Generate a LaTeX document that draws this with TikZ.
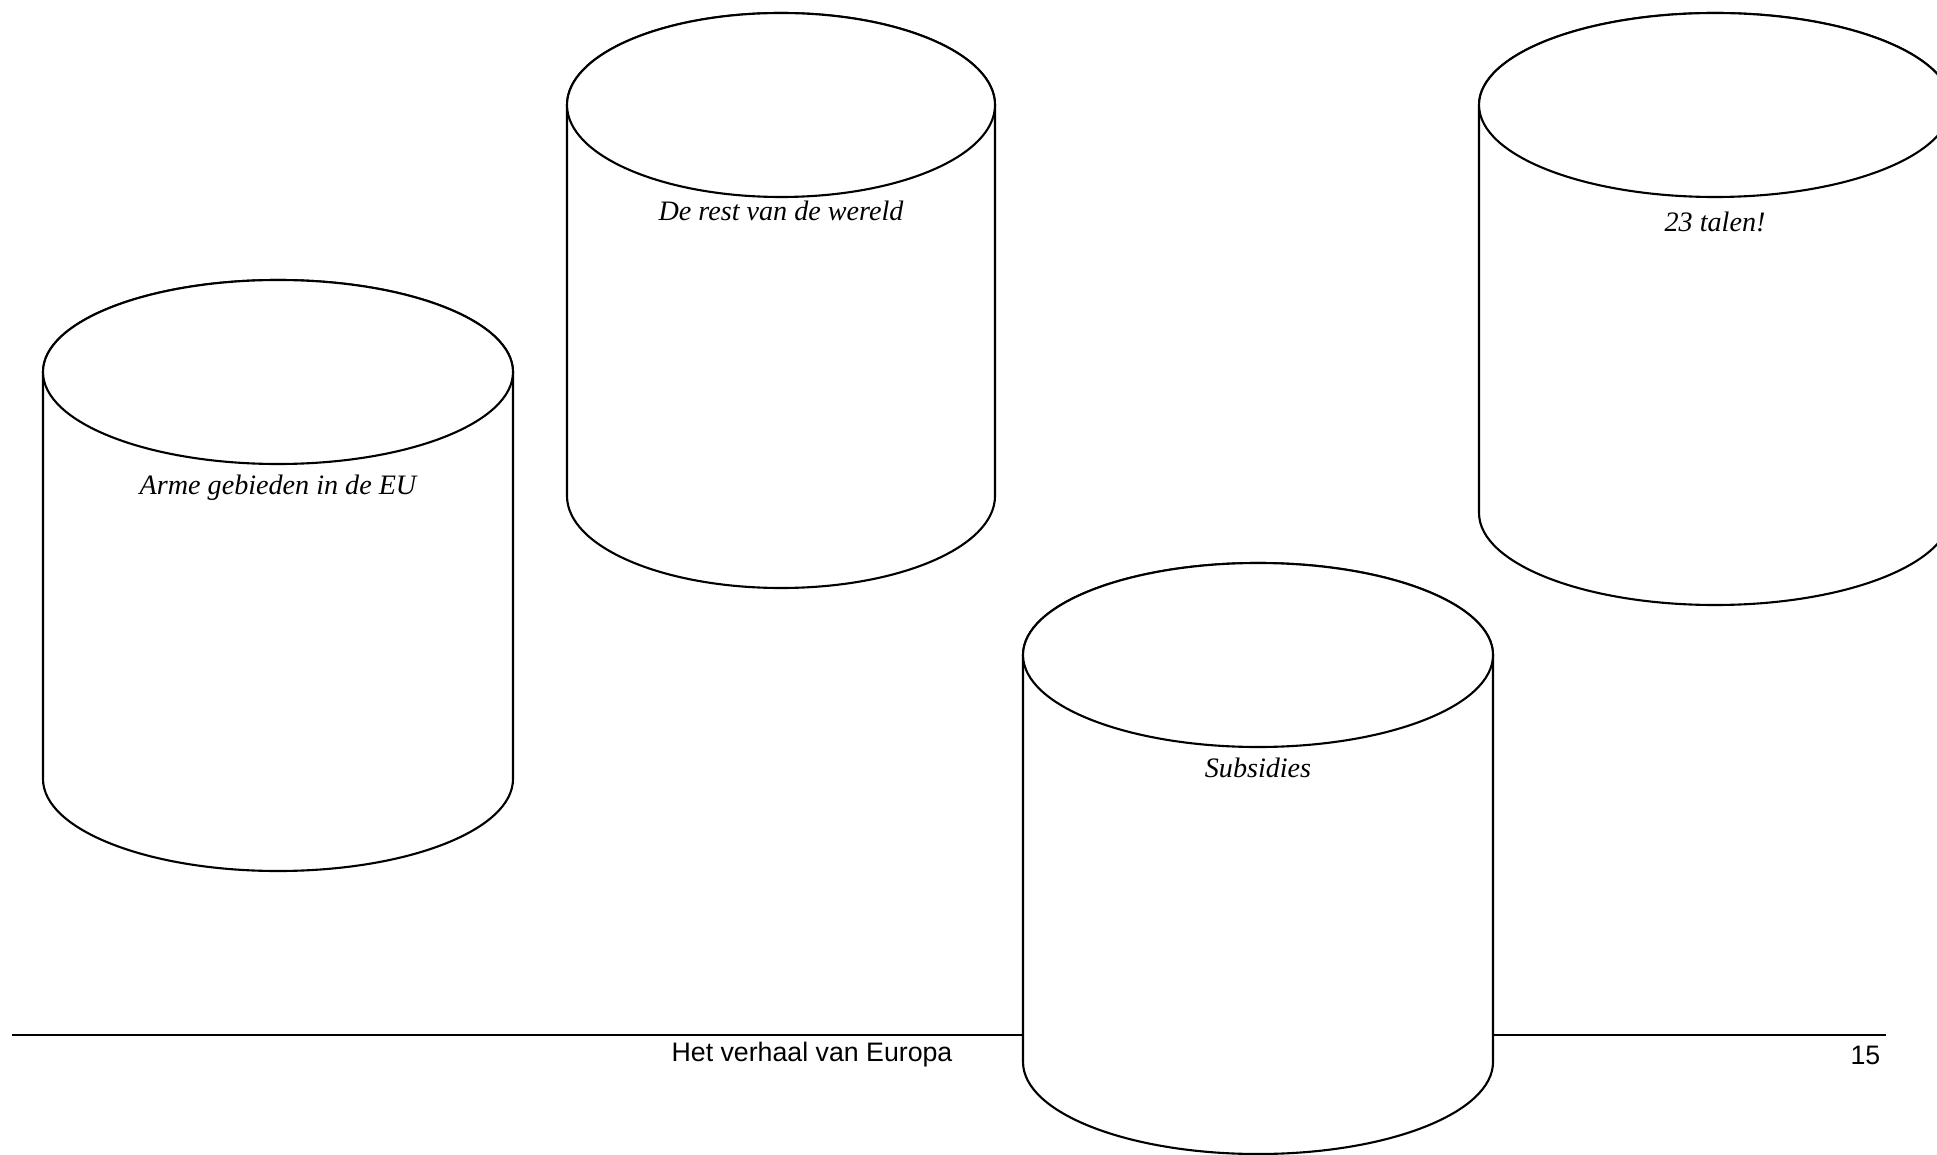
\documentclass[tikz,border=0pt]{standalone}
\usepackage{fontspec}
\usepackage{tikz}
\usetikzlibrary{positioning}
\newfontfamily\footfont{Liberation Sans}
\newfontfamily\handfont{Liberation Serif}
\definecolor{ink}{HTML}{000000}
\tikzset{cylline/.style={draw=ink,fill=white,line width=.6pt},cyllabel/.style={font=\fontsize{8}{9}\selectfont\handfont\itshape,inner sep=1pt},footline/.style={draw=ink,line width=.75pt},footlabel/.style={font=\fontsize{7.6}{9}\selectfont\footfont,inner sep=0pt}}

\begin{document}
\begin{tikzpicture}[x=.01cm,y=.01cm]
\useasboundingbox (0,0) rectangle (1937,-1155);
\clip (0,0) rectangle (1937,-1155);
\draw[footline] (12,-1035) -- (1886,-1035);
% cx / top y / x radius / height / label drop / name / text
\foreach \cx/\cy/\rx/\h/\d/\n/\txt in {278/-372/235/407/116/arm/Arme gebieden in de EU,781/-105/214/391/106/rest/De rest van de wereld,1715/-105/236/408/117/talen/23 talen!,1258/-655/235/407/113/subs/Subsidies}{
\draw[cylline] (\cx-\rx,\cy) -- (\cx-\rx,\cy-\h) arc[start angle=180,end angle=360,x radius=\rx,y radius=92] -- (\cx+\rx,\cy) arc[start angle=0,end angle=180,x radius=\rx,y radius=92] -- cycle;
\draw[cylline] (\cx,\cy) ellipse[x radius=\rx,y radius=92];
\node[cyllabel] (\n) at (\cx,\cy-\d) {\txt};
}
\node[footlabel] (foot) at (812,-1055) {Het verhaal van Europa};
\node[footlabel,anchor=east] (page) at (1881,-1055) {15};
\end{tikzpicture}
\end{document}
